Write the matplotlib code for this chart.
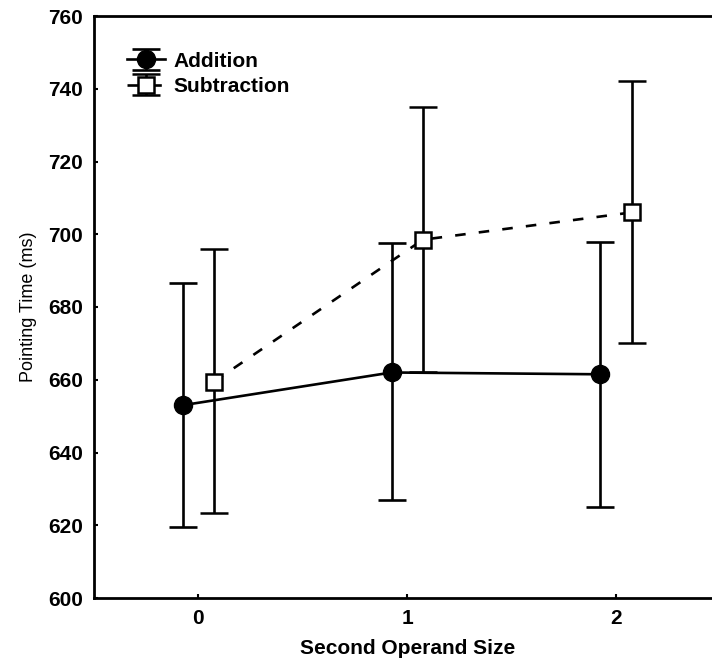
import matplotlib
matplotlib.use('Agg')
import matplotlib.pyplot as plt
import numpy as np

plt.rcParams['font.family'] = ['Liberation Sans', 'DejaVu Sans']

# data
operand_size = [0, 1, 2]
add_mean = [653, 662, 661.5]
add_low = [619.5, 627, 625]
add_high = [686.5, 697.5, 698]
sub_mean = [659.5, 698.5, 706]
sub_low = [623.5, 662, 670]
sub_high = [696, 735, 742]

x = np.array(operand_size, dtype=float)
add_err = [np.subtract(add_mean, add_low), np.subtract(add_high, add_mean)]
sub_err = [np.subtract(sub_mean, sub_low), np.subtract(sub_high, sub_mean)]

fig = plt.figure(figsize=(7.12, 6.63), dpi=100)
ax = fig.add_axes([94 / 712, 1 - 598 / 663, (720.5 - 94) / 712, (598 - 16) / 663])

lw = 1.9
ax.errorbar(x - 0.075, add_mean, yerr=add_err, fmt='-o', color='black',
            markersize=13, linewidth=lw, elinewidth=lw, capsize=10, capthick=lw,
            label='Addition', zorder=3)
ax.errorbar(x + 0.075, sub_mean, yerr=sub_err, fmt='s', linestyle=(0, (4, 5)),
            color='black', markerfacecolor='white', markeredgewidth=1.8,
            markersize=12, linewidth=lw, elinewidth=lw, capsize=10, capthick=lw,
            label='Subtraction', zorder=3)

ax.set_xlim(-0.5, 2.5)
ax.set_ylim(600, 760)
ax.set_xticks(operand_size)
ax.set_yticks(np.arange(600, 761, 20))
ax.tick_params(direction='in', length=3, width=1.5, labelsize=15, pad=8)
for lab in ax.get_xticklabels() + ax.get_yticklabels():
    lab.set_fontweight('bold')

for side in ['left', 'bottom', 'top']:
    ax.spines[side].set_linewidth(2)
ax.spines['right'].set_visible(False)

ax.set_xlabel('Second Operand Size', fontsize=15, fontweight='bold', labelpad=8)
ax.set_ylabel('Pointing Time (ms)', fontsize=13, labelpad=8)

leg = ax.legend(loc='upper left', bbox_to_anchor=(0.04, 0.953), frameon=False,
                fontsize=15, handlelength=1.8, handletextpad=0.4,
                labelspacing=0.3, borderaxespad=0)
for t in leg.get_texts():
    t.set_fontweight('bold')

fig.savefig('out.png', dpi=100)
